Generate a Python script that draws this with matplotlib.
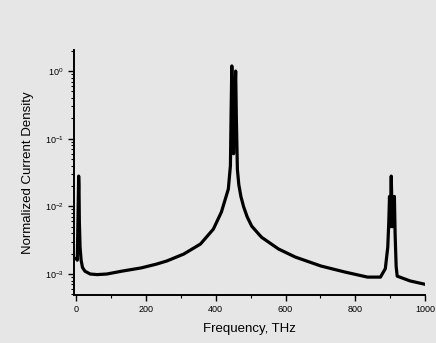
import numpy as np
import matplotlib
matplotlib.use('Agg')
import matplotlib.pyplot as plt
from matplotlib.ticker import LogLocator, NullFormatter, MultipleLocator

plt.rcParams['font.family'] = ['Liberation Sans', 'DejaVu Sans']

# Frequency (THz) and normalized current density
freq = [0, 3, 5, 7, 8, 9, 11, 14, 18, 25, 40, 60, 88, 130, 186, 230, 260, 308,
        356, 393, 416, 436, 442, 444, 446, 448, 451, 454, 457, 459, 462, 466,
        472, 480, 490, 503, 531, 580, 628, 702, 770, 835, 872, 886, 893, 896,
        898, 900, 903, 906, 909, 912, 914, 917, 920, 957, 997]
density = [1.7e-3, 1.6e-3, 6e-3, 0.028, 0.02, 6e-3, 2.5e-3, 1.6e-3, 1.25e-3,
           1.1e-3, 1.0e-3, 0.98e-3, 1.0e-3, 1.1e-3, 1.23e-3, 1.4e-3, 1.56e-3,
           1.97e-3, 2.77e-3, 4.6e-3, 8.2e-3, 0.018, 0.04, 0.25, 1.19, 0.3,
           0.06, 0.3, 1.0, 0.2, 0.035, 0.021, 0.014, 0.0098, 7e-3, 5.1e-3,
           3.5e-3, 2.34e-3, 1.78e-3, 1.31e-3, 1.07e-3, 0.9e-3, 0.9e-3, 1.2e-3,
           2.5e-3, 6e-3, 0.014, 5e-3, 0.028, 5e-3, 6e-3, 0.014, 4e-3, 1.3e-3,
           0.93e-3, 0.79e-3, 0.71e-3]

bg = '#e6e6e6'
fig = plt.figure(figsize=(4.36, 3.43), dpi=100, facecolor=bg)
ax = fig.add_axes([0.170, 0.140, 0.805, 0.714], facecolor=bg)

ax.plot(freq, density, color='black', linewidth=2.3)

ax.set_yscale('log')
ax.set_xlim(-6, 1000)
ax.set_ylim(10**-3.31, 10**0.31)

ax.xaxis.set_major_locator(MultipleLocator(200))
ax.xaxis.set_minor_locator(MultipleLocator(100))
ax.yaxis.set_major_locator(LogLocator(base=10, numticks=10))
ax.yaxis.set_minor_locator(LogLocator(base=10, subs=np.arange(2, 10), numticks=10))
ax.yaxis.set_minor_formatter(NullFormatter())

ax.spines['top'].set_visible(False)
ax.spines['right'].set_visible(False)
for s in ['left', 'bottom']:
    ax.spines[s].set_linewidth(1.4)

ax.tick_params(which='major', direction='out', length=4, width=1, labelsize=6.5)
ax.tick_params(which='minor', direction='out', length=2.5, width=0.8)

ax.set_xlabel('Frequency, THz', fontsize=9.5, labelpad=6)
ax.set_ylabel('Normalized Current Density', fontsize=9.5, labelpad=8)

fig.savefig('out.png', dpi=100, facecolor=bg)
